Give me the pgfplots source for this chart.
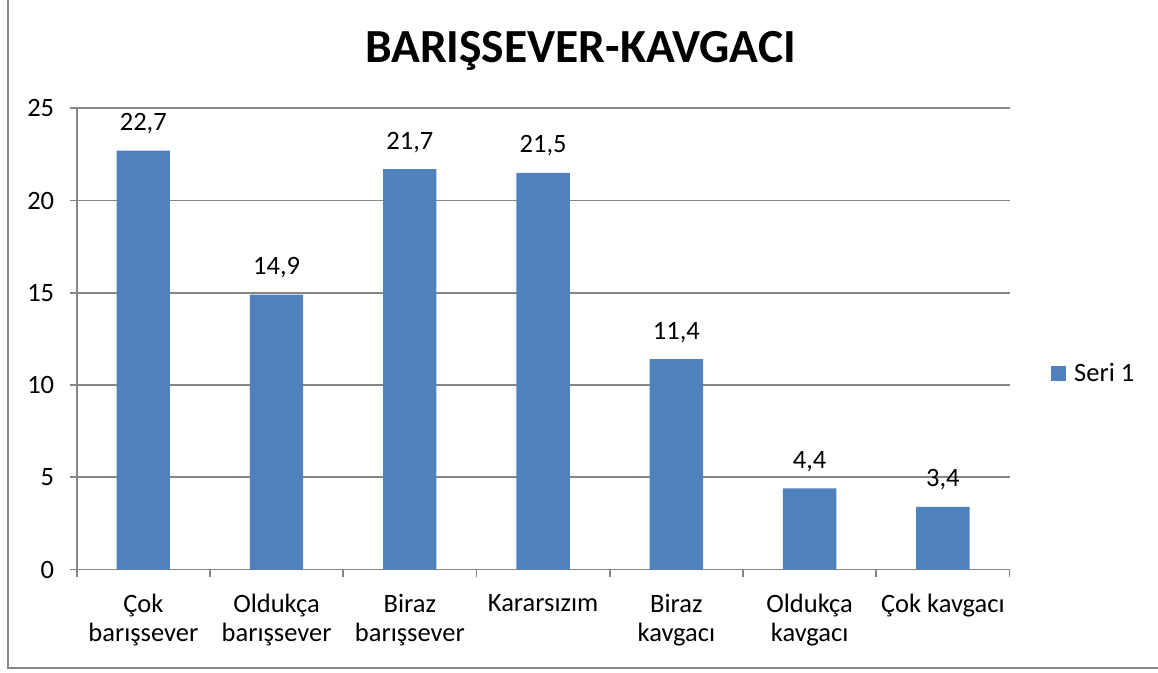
\documentclass[border=0pt]{standalone}
\usepackage{pgfplots}
\pgfplotsset{compat=1.18}
\usepackage{fontspec}
\setmainfont{Carlito}
\definecolor{barblue}{HTML}{4F81BD}
\definecolor{axgray}{HTML}{868686}
\newcommand\lbl{\fontsize{26.5}{29}\selectfont}
\begin{document}
\begin{tikzpicture}
\useasboundingbox (0,0) rectangle (1158pt,672pt);
\draw[axgray, line width=1.8pt] (8pt,680pt) -- (8pt,4pt) -- (1170pt,4pt);
\node[anchor=base, font=\fontsize{47.5}{57}\selectfont\bfseries] at (580.5pt,609pt) {BARIŞSEVER-KAVGACI};
\begin{axis}[
  at={(76.7pt,102.5pt)}, anchor=south west,
  scale only axis, width=932.8pt, height=461.2pt,
  xmin=0.5, xmax=7.5, ymin=0, ymax=25,
  ytick={0,5,10,15,20,25},
  xtick={1,2,3,4,5,6,7},
  xticklabels={{Çok\\barışsever},{Oldukça\\barışsever},{Biraz\\barışsever},{Kararsızım},{Biraz\\kavgacı},{Oldukça\\kavgacı},{Çok kavgacı}},
  minor xtick={0.5,1.5,...,7.5},
  major x tick style={draw=none},
  axis x line=bottom, axis y line=left,
  axis line style={-, draw=axgray, line width=1.6pt},
  tick align=outside,
  major tick length=7pt, minor tick length=7pt,
  tick style={draw=axgray, line width=1.6pt},
  ymajorgrids, grid style={draw=axgray, line width=1.6pt},
  /pgf/number format/assume math mode=true,
  ticklabel style={font=\lbl},
  yticklabel style={xshift=-12pt},
  xticklabel style={align=center, yshift=-14pt},
  ybar, bar width=53.3pt,
  nodes near coords={\pgfmathprintnumber[fixed,fixed zerofill,precision=1,use comma,assume math mode=true]{\pgfplotspointmeta}},
  every node near coord/.append style={font=\lbl, anchor=base, yshift=20pt, inner sep=0pt},
  legend style={at={(1.0413,0.426)}, anchor=west, draw=none, fill=none, font=\lbl},
  legend image code/.code={\fill[barblue] (0pt,-7.5pt) rectangle (15pt,7.5pt);},
]
\addplot[fill=barblue, draw=none] coordinates {(1,22.7) (2,14.9) (3,21.7) (4,21.5) (5,11.4) (6,4.4) (7,3.4)};
\addlegendentry{\hspace{6pt}Seri 1}
\end{axis}
\end{tikzpicture}
\end{document}
